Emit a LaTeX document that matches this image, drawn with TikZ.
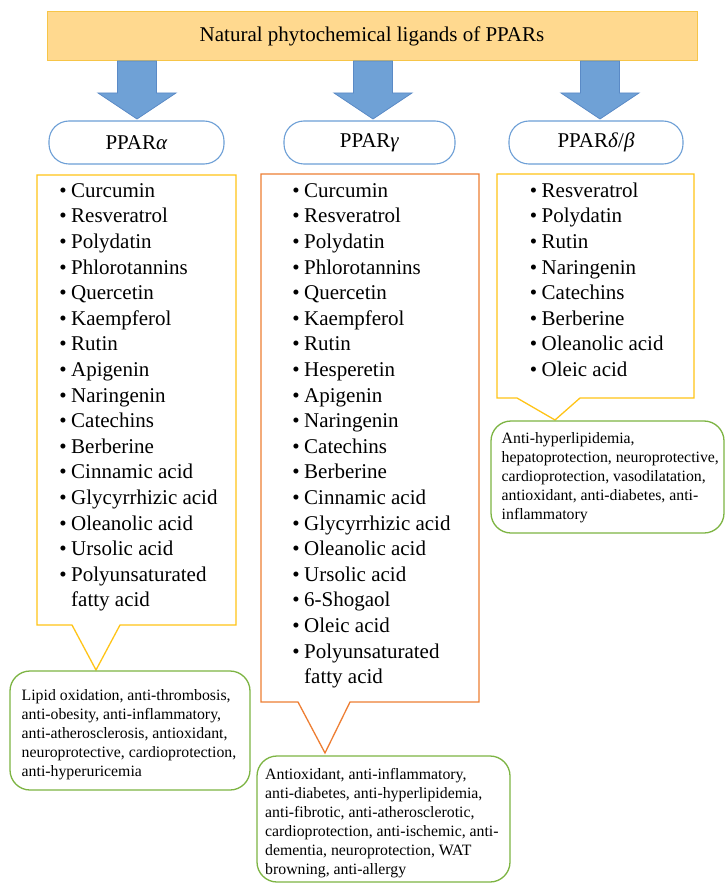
\documentclass[tikz,border=0pt]{standalone}
\usepackage{fontspec}
\setmainfont{Liberation Serif}
\definecolor{topfill}{HTML}{FFD98F}
\definecolor{topdraw}{HTML}{F7C548}
\definecolor{arrfill}{HTML}{6FA1D6}
\definecolor{arrdraw}{HTML}{5A8AC6}
\definecolor{ppardraw}{HTML}{6D9FD6}
\definecolor{yel}{HTML}{FFC417}
\definecolor{ora}{HTML}{EE7E33}
\definecolor{grn}{HTML}{7DB443}
\newcommand\bul{\llap{•\hspace{4.5pt}}}
\tikzset{
  bigarrow/.style={fill=arrfill,draw=arrdraw,line width=0.8pt},
  pparbox/.style={draw=ppardraw,line width=1.1pt,rounded corners=20pt,minimum width=175pt,minimum height=43pt,inner sep=0pt,font=\rmfamily\fontsize{21}{25.6}\selectfont},
  listtext/.style={anchor=base west,inner sep=0pt,font=\rmfamily\fontsize{21}{25.6}\selectfont},
  efftext/.style={anchor=base west,inner sep=0pt,font=\rmfamily\fontsize{15.8}{19}\selectfont},
  greenbox/.style={draw=grn,line width=1.3pt,rounded corners=20pt,inner sep=0pt},
  listbox/.style={line width=1.3pt,line join=miter}
}
\begin{document}
\begin{tikzpicture}[x=1pt,y=-1pt]
\useasboundingbox (0,0) rectangle (725,885);
\fill[white] (0,0) rectangle (725,885);

% title
\node[draw=topdraw,fill=topfill,line width=1pt,minimum width=650pt,minimum height=49pt,inner sep=0pt,
      font=\rmfamily\fontsize{21}{25}\selectfont] (top) at (372,36.5) {Natural phytochemical ligands of PPARs};

% arrows
\foreach \c/\n in {137/a,373/g,600/d}{
  \draw[bigarrow] (\c-19.5,61) -- (\c+19.5,61) -- (\c+19.5,93) -- (\c+39,93) -- (\c,119)
        -- (\c-39,93) -- (\c-19.5,93) -- cycle;
}

% PPAR boxes
\node[pparbox] (pa) at (136.5,142.5) {PPAR\textit{α}};
\node[pparbox,minimum width=171pt] (pg) at (369.5,142.5) {PPAR\textit{γ}};
\node[pparbox,minimum width=174pt] (pd) at (596,142.5) {PPAR\textit{δ}/\textit{β}};

% list boxes with pointers
\draw[listbox,draw=yel] (37,175) -- (236,175) -- (236,625) -- (120,625) -- (96,670) -- (72,625) -- (37,625) -- cycle;
\draw[listbox,draw=ora] (261,174) -- (479,174) -- (479,702) -- (350,702) -- (325,753) -- (298,702) -- (261,702) -- cycle;
\draw[listbox,draw=yel] (497,174) -- (694,174) -- (694,398) -- (580,398) -- (555,420) -- (517,398) -- (497,398) -- cycle;

% lists
\foreach \t [count=\i] in {{\bul Curcumin},{\bul Resveratrol},{\bul Polydatin},{\bul Phlorotannins},{\bul Quercetin},{\bul Kaempferol},{\bul Rutin},{\bul Apigenin},{\bul Naringenin},{\bul Catechins},{\bul Berberine},{\bul Cinnamic acid},{\bul Glycyrrhizic acid},{\bul Oleanolic acid},{\bul Ursolic acid},{\bul Polyunsaturated},{fatty acid}}
  \node[listtext] (la\i) at (71,197.3+25.6*\i-25.6) {\t};
\foreach \t [count=\i] in {{\bul Curcumin},{\bul Resveratrol},{\bul Polydatin},{\bul Phlorotannins},{\bul Quercetin},{\bul Kaempferol},{\bul Rutin},{\bul Hesperetin},{\bul Apigenin},{\bul Naringenin},{\bul Catechins},{\bul Berberine},{\bul Cinnamic acid},{\bul Glycyrrhizic acid},{\bul Oleanolic acid},{\bul Ursolic acid},{\bul 6-Shogaol},{\bul Oleic acid},{\bul Polyunsaturated},{fatty acid}}
  \node[listtext] (lg\i) at (304,197.3+25.6*\i-25.6) {\t};
\foreach \t [count=\i] in {{\bul Resveratrol},{\bul Polydatin},{\bul Rutin},{\bul Naringenin},{\bul Catechins},{\bul Berberine},{\bul Oleanolic acid},{\bul Oleic acid}}
  \node[listtext] (ld\i) at (541.5,197.3+25.6*\i-25.6) {\t};

% effect boxes
\node[greenbox,minimum width=240pt,minimum height=119pt] (ga) at (130,730.5) {};
\node[greenbox,minimum width=253pt,minimum height=126pt] (gg) at (383.5,819) {};
\node[greenbox,minimum width=233pt,minimum height=112pt] (gd) at (607.5,477) {};

\foreach \t [count=\i] in {{Lipid oxidation, anti-thrombosis,},{anti-obesity, anti-inflammatory,},{anti-atherosclerosis, antioxidant,},{neuroprotective, cardioprotection,},{anti-hyperuricemia}}
  \node[efftext] (ea\i) at (21.5,700+19*\i-19) {\t};
\foreach \t [count=\i] in {{Antioxidant, anti-inflammatory,},{anti-diabetes, anti-hyperlipidemia,},{anti-fibrotic, anti-atherosclerotic,},{cardioprotection, anti-ischemic, anti-},{dementia, neuroprotection, WAT},{browning, anti-allergy}}
  \node[efftext] (eg\i) at (265,779.3+19*\i-19) {\t};
\foreach \t [count=\i] in {{Anti-hyperlipidemia,},{hepatoprotection, neuroprotective,},{cardioprotection, vasodilatation,},{antioxidant, anti-diabetes, anti-},{inflammatory}}
  \node[efftext] (ed\i) at (501.5,443.3+19*\i-19) {\t};
\end{tikzpicture}
\end{document}
